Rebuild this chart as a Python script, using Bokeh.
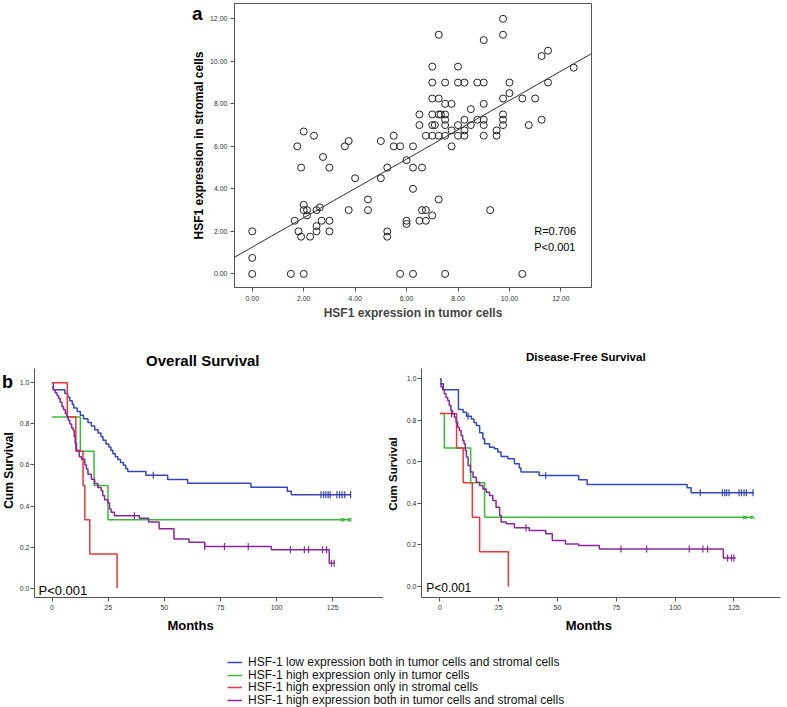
import numpy as np
from bokeh.plotting import figure
from bokeh.models import (Range1d, Label, Legend, LegendItem, Slope, FixedTicker,
                          PrintfTickFormatter)
from bokeh.layouts import column, row
from bokeh.embed import file_html
from bokeh.resources import INLINE

FONT = "Liberation Sans"

# ---------------- panel a: scatter data ----------------
tumor = [1.75, 2.0, 2.4, 3.6, 3.75, 5.0, 5.5, 5.5, 5.75, 6.25, 6.5, 6.5, 6.75, 7.0, 7.0, 7.0,
         7.0, 7.0, 7.0, 7.25, 7.25, 7.25, 7.33, 7.1, 7.25, 7.5, 7.5, 7.5, 7.5, 7.5, 7.5, 7.75,
         7.75, 7.75, 8.0, 8.0, 8.0, 8.0, 8.25, 8.25, 8.25, 8.25, 8.5, 8.5, 8.75, 8.75, 9.0, 9.0,
         9.0, 9.0, 9.0, 9.0,
         9.75, 9.75, 11.25, 11.5, 12.5, 10.0, 11.5, 10.0, 9.75, 10.5, 11.0, 9.75, 9.75, 9.75,
         10.75, 11.25, 9.5, 9.5, 9.25, 10.5,
         1.9, 2.75, 3.0, 4.0, 5.0, 5.25, 6.0, 6.25, 6.25, 6.6, 0.0, 0.0, 0.0, 1.5, 2.0, 1.65,
         1.8, 1.9, 2.0, 2.0, 2.13, 2.13, 2.25, 2.5, 2.63, 2.5, 2.5, 2.7, 3.0, 3.0, 3.75, 4.5,
         4.5, 5.25, 5.25, 5.75, 6.0, 6.0, 6.25, 6.5, 6.6, 6.75, 6.75, 7.0, 7.25, 7.5]
stromal = [6.0, 6.7, 6.5, 6.0, 6.25, 6.25, 6.5, 6.0, 6.0, 6.0, 7.5, 7.0, 6.5, 9.75, 9.0, 8.25,
           7.5, 7.0, 6.5, 11.25, 8.25, 7.5, 7.5, 7.0, 6.5, 9.0, 8.0, 7.5, 7.25, 7.0, 6.5, 8.0,
           6.75, 6.0, 9.75, 9.0, 7.0, 6.5, 9.0, 7.25, 6.75, 6.5, 7.75, 7.0, 9.0, 7.25, 11.0, 9.0,
           8.0, 7.25, 7.0, 6.5,
           12.0, 11.25, 10.25, 10.5, 9.7, 9.0, 9.0, 8.5, 8.25, 8.25, 8.25, 7.5, 7.25, 7.0,
           7.0, 7.25, 6.75, 6.5, 3.0, 0.0,
           5.0, 5.5, 5.0, 4.5, 4.5, 5.0, 5.35, 5.0, 4.0, 5.0, 2.0, 0.75, 0.0, 0.0, 0.0, 2.5,
           2.0, 1.75, 3.25, 3.0, 3.0, 2.75, 1.75, 3.0, 3.13, 2.25, 2.0, 2.5, 2.5, 2.0, 3.0, 3.5,
           3.0, 2.0, 1.75, 0.0, 2.5, 2.35, 0.0, 2.5, 3.0, 3.0, 2.5, 2.75, 3.5, 0.0]
scatter_ticks = [0, 2, 4, 6, 8, 10, 12]
fit_slope = 0.69        # fitted line as drawn in the figure
fit_intercept = 1.26

# ---------------- panel b: Kaplan-Meier data ----------------
names = ["HSF-1 low expression both in tumor cells and stromal cells",
         "HSF-1 high expression only in tumor cells",
         "HSF-1 high expression only in stromal cells",
         "HSF-1 high expression both in tumor cells and stromal cells"]
colors = ["#3447b5", "#3cb83c", "#e8383d", "#86299a"]

# Overall survival
os_blue_t = [0, 0.6, 5.7, 7.0, 7.9, 9.0, 9.7, 11.2, 12.6, 14.0, 16.0, 17.5, 19.0, 20.5, 21.8,
             22.7, 24.0, 25.3, 26.2, 27.1, 28.2, 29.3, 30.5, 31.8, 32.8, 33.7, 41.8, 51.5,
             60.4, 88.6, 104.8, 106.6, 133.0]
os_blue_s = [1.0, 0.966, 0.948, 0.93, 0.912, 0.895, 0.877, 0.86, 0.842, 0.825, 0.807, 0.79,
             0.772, 0.755, 0.737, 0.72, 0.702, 0.687, 0.671, 0.655, 0.64, 0.626, 0.612, 0.598,
             0.583, 0.568, 0.55, 0.529, 0.511, 0.492, 0.472, 0.455, 0.455]
os_green_t = [0, 12.6, 18.7, 24.9, 133.0]
os_green_s = [0.833, 0.667, 0.5, 0.333, 0.333]
os_red_t = [0, 6.8, 10.6, 13.8, 14.6, 16.8, 29.0, 29.0]
os_red_s = [1.0, 0.833, 0.667, 0.5, 0.333, 0.167, 0.0, 0.0]
os_purple_t = [0, 0.5, 1.4, 2.2, 2.9, 3.6, 4.4, 5.1, 5.9, 6.6, 7.2, 7.9, 8.7, 9.4, 9.9, 10.3,
               10.9, 12.1, 13.1, 14.6, 15.3, 16.0, 17.5, 19.0, 20.4, 21.9, 22.6, 23.4, 24.9,
               25.6, 26.3, 27.8, 38.9, 43.0, 47.7, 54.3, 61.0, 68.0, 97.7, 123.5, 125.7]
os_purple_s = [0.98, 0.966, 0.952, 0.938, 0.924, 0.905, 0.885, 0.87, 0.85, 0.835, 0.818, 0.8,
               0.78, 0.769, 0.737, 0.705, 0.672, 0.64, 0.628, 0.6, 0.58, 0.555, 0.53, 0.51,
               0.49, 0.475, 0.45, 0.43, 0.415, 0.385, 0.37, 0.353, 0.34, 0.322, 0.29, 0.24,
               0.224, 0.203, 0.187, 0.122, 0.122]
os_blue_ct = [45.1, 119.8, 121.0, 122.0, 123.0, 123.9, 126.9, 128.1, 129.2, 130.4, 133.0]
os_blue_cs = [0.55, 0.455, 0.455, 0.455, 0.455, 0.455, 0.455, 0.455, 0.455, 0.455, 0.455]
os_green_ct = [129.4, 132.6]
os_green_cs = [0.333, 0.333]
os_purple_ct = [36.7, 68.0, 76.8, 87.4, 106.2, 112.4, 114.3, 120.5, 122.3, 124.5, 125.7]
os_purple_cs = [0.353, 0.203, 0.203, 0.203, 0.187, 0.187, 0.187, 0.187, 0.187, 0.122, 0.122]

# Disease-free survival
dfs_blue_t = [0, 0.5, 1.5, 7.9, 9.9, 11.3, 13.4, 14.5, 15.5, 16.9, 18.3, 19.0, 21.1, 23.2,
              24.6, 26.0, 28.9, 31.7, 33.8, 34.5, 42.2, 59.0, 62.6, 105.1, 106.8, 133.5]
dfs_blue_s = [1.0, 0.976, 0.947, 0.852, 0.839, 0.82, 0.807, 0.79, 0.775, 0.74, 0.711, 0.687,
              0.671, 0.663, 0.647, 0.626, 0.615, 0.591, 0.571, 0.551, 0.535, 0.514, 0.491,
              0.475, 0.451, 0.451]
dfs_green_t = [0, 1.9, 13.1, 19.0, 133.0]
dfs_green_s = [0.833, 0.667, 0.5, 0.333, 0.333]
dfs_red_t = [0, 7.1, 9.9, 13.8, 16.9, 29.1, 29.1]
dfs_red_s = [0.833, 0.667, 0.5, 0.333, 0.167, 0.0, 0.0]
dfs_purple_t = [0, 0.5, 1.2, 1.9, 2.6, 3.3, 4.0, 4.7, 5.4, 6.2, 6.9, 7.6, 8.3, 9.0, 9.7, 10.3,
                10.8, 11.3, 12.0, 13.0, 14.1, 15.5, 16.9, 18.3, 19.7, 21.1, 22.5, 23.9, 25.4,
                26.1, 28.2, 31.7, 38.0, 45.0, 47.8, 53.4, 59.0, 67.8, 120.5, 125.8]
dfs_purple_s = [0.976, 0.96, 0.947, 0.928, 0.91, 0.896, 0.872, 0.847, 0.831, 0.815, 0.791,
                0.767, 0.751, 0.727, 0.703, 0.687, 0.655, 0.623, 0.583, 0.551, 0.526, 0.502,
                0.486, 0.47, 0.454, 0.438, 0.414, 0.382, 0.342, 0.31, 0.302, 0.283, 0.27,
                0.254, 0.222, 0.205, 0.197, 0.181, 0.137, 0.137]
dfs_blue_ct = [12.0, 45.0, 110.7, 120.1, 121.1, 121.9, 122.9, 127.2, 128.2, 129.3, 130.3, 133.1]
dfs_blue_cs = [0.82, 0.535, 0.451, 0.451, 0.451, 0.451, 0.451, 0.451, 0.451, 0.451, 0.451, 0.451]
dfs_green_ct = [129.7, 132.8]
dfs_green_cs = [0.333, 0.333]
dfs_purple_ct = [5.0, 36.6, 77.0, 87.9, 106.0, 111.8, 113.8, 122.3, 124.0, 125.0]
dfs_purple_cs = [0.831, 0.283, 0.181, 0.181, 0.181, 0.181, 0.181, 0.137, 0.137, 0.137]

km_x_ticks = [0, 25, 50, 75, 100, 125]
km_y_ticks = [0.0, 0.2, 0.4, 0.6, 0.8, 1.0]


def lab(p, x, y, text, size, bold=False, align="left", angle=0.0):
    p.add_layout(Label(x=x, y=y, x_units="screen", y_units="screen", text=text,
                       text_font=FONT, text_font_size=size,
                       text_font_style="bold" if bold else "normal",
                       text_align=align, text_baseline="alphabetic", angle=angle,
                       text_color="#000000"))


def blank(width, height, top, bottom):
    p = figure(width=width, height=height, output_backend="svg", toolbar_location=None,
               x_range=Range1d(0, 1), y_range=Range1d(0, 1),
               x_axis_location=None, y_axis_location=None,
               min_border_left=0, min_border_right=0, min_border_top=top,
               min_border_bottom=bottom)
    p.outline_line_color = None
    p.grid.visible = False
    return p


def style_axes(p, ticks_x, ticks_y, fmt_x, fmt_y, size):
    p.xaxis.ticker = FixedTicker(ticks=ticks_x)
    p.yaxis.ticker = FixedTicker(ticks=ticks_y)
    p.xaxis.formatter = PrintfTickFormatter(format=fmt_x)
    p.yaxis.formatter = PrintfTickFormatter(format=fmt_y)
    for ax in (p.xaxis, p.yaxis):
        ax.minor_tick_line_color = None
        ax.major_tick_in = 0
        ax.major_tick_out = 4
        ax.major_label_text_font = FONT
        ax.major_label_text_font_size = size
        ax.major_label_text_color = "#333333"
        ax.axis_line_color = "#555555"
        ax.major_tick_line_color = "#555555"
    p.grid.visible = False


# ---------------- panel a ----------------
pa_strip = blank(206, 330, 3, 43)
lab(pa_strip, 191.5, 274.3, "a", "19px", bold=True)
lab(pa_strip, 198, 142, "HSF1 expression in stromal cells", "12px", bold=True,
    align="center", angle=np.pi / 2)

p1 = figure(width=581, height=330, output_backend="svg", toolbar_location=None,
            x_range=Range1d(-0.69, 13.19), y_range=Range1d(-0.64, 12.72),
            min_border_left=25, min_border_right=196, min_border_top=3, min_border_bottom=43)
style_axes(p1, scatter_ticks, scatter_ticks, "%.2f", "%.2f", "7px")
p1.outline_line_color = "#555555"
p1.xaxis.major_label_standoff = 4
p1.yaxis.major_label_standoff = 3
p1.xaxis.axis_label = "HSF1 expression in tumor cells"
p1.xaxis.axis_label_text_font = FONT
p1.xaxis.axis_label_text_font_size = "12px"
p1.xaxis.axis_label_text_font_style = "bold"
p1.xaxis.axis_label_standoff = 2
p1.scatter(tumor, stromal, marker="circle", size=7, fill_color=None,
           line_color="#222222", line_width=1)
p1.add_layout(Slope(gradient=fit_slope, y_intercept=fit_intercept,
                    line_color="#333333", line_width=1))
lab(p1, 299.7, 57, "R=0.706", "11px")
lab(p1, 299.7, 40.3, "P<0.001", "11px")

# ---------------- panel b titles ----------------
pt_strip = blank(787, 37, 0, 0)
lab(pt_strip, 202.3, 7.5, "Overall Survival", "15px", bold=True, align="center")
lab(pt_strip, 585.3, 10.3, "Disease-Free Survival", "11.5px", bold=True, align="center")


# ---------------- panel b figures ----------------
def km_fig(width, left, right, xr, yr, curves, cens):
    p = figure(width=width, height=247, output_backend="svg", toolbar_location=None,
               x_range=Range1d(*xr), y_range=Range1d(*yr),
               min_border_left=left, min_border_right=right, min_border_top=1,
               min_border_bottom=17)
    style_axes(p, km_x_ticks, km_y_ticks, "%d", "%.1f", "7px")
    p.outline_line_color = None
    p.xaxis.major_label_standoff = 3
    p.yaxis.major_label_standoff = 1
    for (t, s), c in zip(curves, colors):
        p.step(t, s, mode="after", line_color=c, line_width=1.5)
    for (t, s, m), c in zip(cens, colors):
        if t is None:
            continue
        if m == "x":
            p.scatter(t, s, marker="x", size=5, line_color=c, line_width=1.2)
        else:
            p.scatter(t, s, marker="dash", angle=np.pi / 2, size=7, line_color=c,
                      line_width=1.2)
    return p


pb_strip = blank(16, 247, 1, 17)
lab(pb_strip, 1.5, 216, "b", "18px", bold=True)
lab(pb_strip, 8.5, 127, "Cum Survival", "12px", bold=True, align="center",
    angle=np.pi / 2)

p2 = km_fig(367, 15, 0, (-7.82, 147.66), (-0.0453, 1.0696),
            [(os_blue_t, os_blue_s), (os_green_t, os_green_s), (os_red_t, os_red_s),
             (os_purple_t, os_purple_s)],
            [(os_blue_ct, os_blue_cs, "|"), (os_green_ct, os_green_cs, "x"), (None, None, ""),
             (os_purple_ct, os_purple_cs, "|")])
lab(p2, 4, 7, "P<0.001", "13px")

pc_strip = blank(20, 247, 1, 17)
lab(pc_strip, 9, 123.5, "Cum Survival", "11.5px", bold=True, align="center",
    angle=np.pi / 2)

p3 = km_fig(384, 15, 7, (-7.8, 144.8), (-0.053, 1.0496),
            [(dfs_blue_t, dfs_blue_s), (dfs_green_t, dfs_green_s), (dfs_red_t, dfs_red_s),
             (dfs_purple_t, dfs_purple_s)],
            [(dfs_blue_ct, dfs_blue_cs, "|"), (dfs_green_ct, dfs_green_cs, "x"),
             (None, None, ""), (dfs_purple_ct, dfs_purple_cs, "|")])
lab(p3, 4.7, 9.3, "P<0.001", "12px")

# ---------------- bottom strip: x titles and legend ----------------
pl = blank(787, 93, 0, 0)
lab(pl, 190, 81.7, "Months", "13px", bold=True, align="center")
lab(pl, 588.3, 81.7, "Months", "13px", bold=True, align="center")
legend_rows_y = [38, 25.5, 13, 0.5]
for n, c, ly in zip(names, colors, legend_rows_y):
    r = pl.line(x=[0], y=[0], line_color=c, line_width=1.5)
    leg = Legend(items=[LegendItem(label=n, renderers=[r])], location=(227, ly),
                 padding=0, margin=0, spacing=0,
                 glyph_width=15, glyph_height=12, label_height=12, label_standoff=6,
                 label_text_font=FONT, label_text_font_size="12px",
                 label_text_color="#111111",
                 border_line_color=None, background_fill_alpha=0)
    pl.add_layout(leg)

layout = column(row(pa_strip, p1), row(pt_strip), row(pb_strip, p2, pc_strip, p3), row(pl))
open("out.html", "w").write(file_html(layout, INLINE))
